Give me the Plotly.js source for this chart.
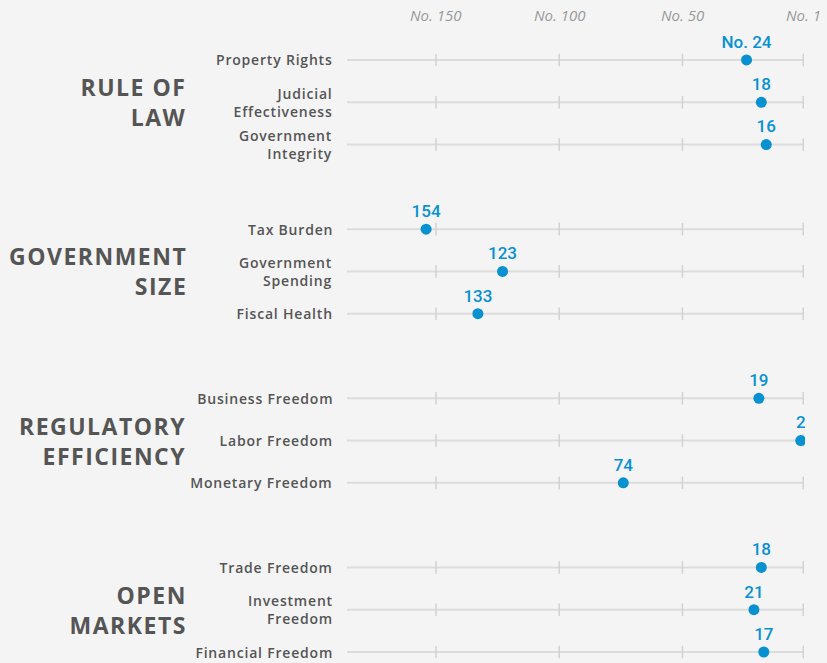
<!DOCTYPE html>
<html>
<head>
<meta charset="utf-8">
<script src="https://cdn.plot.ly/plotly-3.0.1.min.js"></script>
<style>
html,body{margin:0;padding:0;background:#f4f4f4;}
#chart{width:827px;height:663px;}
#chart .annotation.rowlbl text{letter-spacing:0.8px;}
#chart .annotation.grplbl text{letter-spacing:1.5px;}
</style>
</head>
<body>
<div id="chart"></div>
<script>
// ---- data ----
var groups = ["RULE OF<br>LAW", "GOVERNMENT<br>SIZE", "REGULATORY<br>EFFICIENCY", "OPEN<br>MARKETS"];
var categories = [
  ["Property Rights", "Judicial<br>Effectiveness", "Government<br>Integrity"],
  ["Tax Burden", "Government<br>Spending", "Fiscal Health"],
  ["Business Freedom", "Labor Freedom", "Monetary Freedom"],
  ["Trade Freedom", "Investment<br>Freedom", "Financial Freedom"]
];
var ranks = [
  [24, 18, 16],
  [154, 123, 133],
  [19, 2, 74],
  [18, 21, 17]
];
var tickRanks = [150, 100, 50, 1];
var tickLabels = ["No. 150", "No. 100", "No. 50", "No. 1"];

// ---- build ----
var X_MIN = 186.1, X_MAX = 0.28;
var BLUE = "#0791d0", GRAY = "#555555", LINE = "#dcdcdc";
var traces = [], annotations = [], annClass = [];
var ys = [], xs = [], texts = [];
var first = true;

function addLabel(text, y, xshift, font, cls) {
  annotations.push({
    xref: "paper", yref: "y", x: 0, y: y, xanchor: "right", yanchor: "middle",
    xshift: xshift, align: "right", showarrow: false, text: text, font: font
  });
  annClass.push(cls);
}

// top axis labels, placed at the axis' own tick values
tickRanks.forEach(function (r, i) {
  annotations.push({
    xref: "x", yref: "paper", x: r, y: 1, xanchor: "center", yanchor: "middle",
    yshift: 15, showarrow: false, text: tickLabels[i],
    font: {family: "Open Sans, sans-serif", size: 15, style: "italic", color: "#999999"}
  });
  annClass.push("");
});

groups.forEach(function (g, gi) {
  addLabel(g, gi * 4 + 1, -158,
    {family: "Open Sans, sans-serif", size: 23, weight: 700, color: GRAY}, "grplbl");
  categories[gi].forEach(function (c, ci) {
    var y = gi * 4 + ci;
    traces.push({
      type: "scatter", mode: "lines", x: [X_MIN, 1], y: [y, y],
      line: {color: LINE, width: 2}, hoverinfo: "skip", showlegend: false
    });
    traces.push({
      type: "scatter", mode: "markers", x: tickRanks, y: tickRanks.map(function () { return y; }),
      marker: {symbol: "line-ns", size: 9, line: {color: "#d2d2d2", width: 1.5}},
      hoverinfo: "skip", showlegend: false
    });
    addLabel(c, y, -12,
      {family: "Open Sans, sans-serif", size: 14, weight: 600, color: GRAY}, "rowlbl");
    ys.push(y);
    xs.push(ranks[gi][ci]);
    texts.push(first ? "No. " + ranks[gi][ci] : String(ranks[gi][ci]));
    first = false;
  });
});
traces.push({
  type: "scatter", mode: "markers+text", x: xs, y: ys, text: texts,
  textposition: "top center",
  textfont: {family: "Roboto, sans-serif", size: 17, weight: 500, color: BLUE},
  marker: {color: BLUE, size: 11}, showlegend: false
});

var layout = {
  width: 827, height: 663,
  margin: {l: 347, r: 22, t: 30, b: 0},
  paper_bgcolor: "#f4f4f4", plot_bgcolor: "#f4f4f4",
  xaxis: {
    range: [X_MIN, X_MAX], side: "top", showgrid: false, zeroline: false, showline: false,
    tickvals: tickRanks, showticklabels: false, ticks: ""
  },
  yaxis: {
    range: [14.26, -0.709], showgrid: false, zeroline: false, showline: false,
    showticklabels: false, ticks: ""
  },
  annotations: annotations,
  showlegend: false
};
Plotly.newPlot("chart", traces, layout, {displayModeBar: false, staticPlot: true}).then(function (gd) {
  var nodes = gd.querySelectorAll(".annotation");
  nodes.forEach(function (nd, i) { if (annClass[i]) nd.classList.add(annClass[i]); });
  Plotly.relayout(gd, {}).then(function () {
    var nodes2 = gd.querySelectorAll(".annotation");
    nodes2.forEach(function (nd, i) { if (annClass[i]) nd.classList.add(annClass[i]); });
  });
});
</script>
</body>
</html>
